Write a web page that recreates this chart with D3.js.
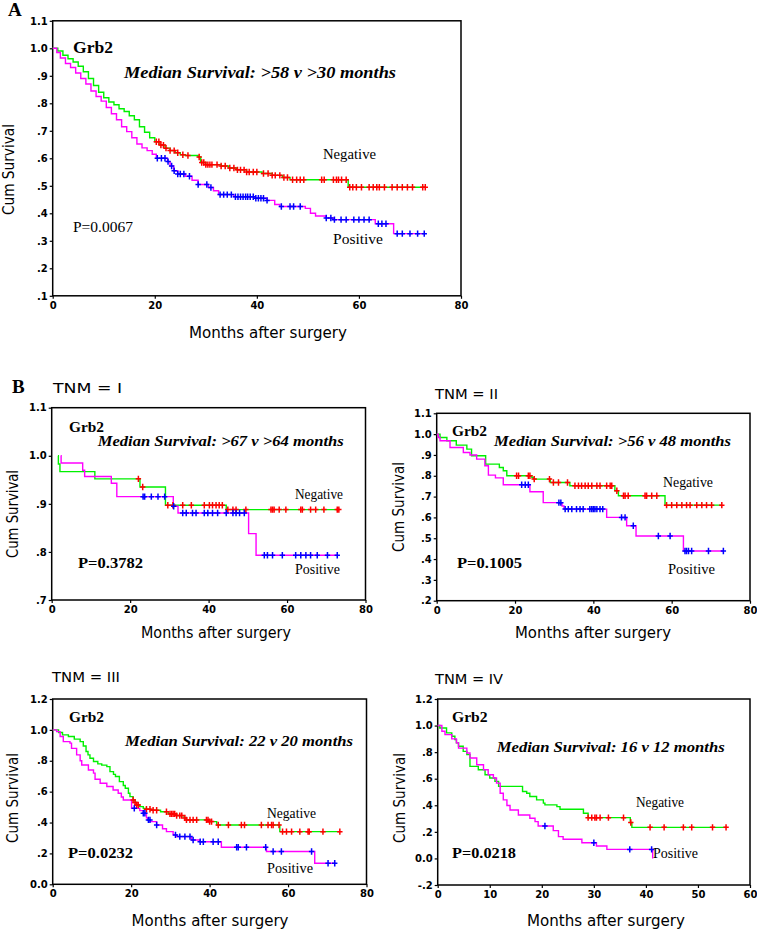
<!DOCTYPE html>
<html><head><meta charset="utf-8">
<script src="https://cdn.jsdelivr.net/npm/d3@7"></script>
<style>body{margin:0;background:#fff}svg{display:block}</style>
</head><body>
<svg id="c" width="757" height="929"></svg>
<script>
// ---------------- DATA ----------------
const markerName = "Grb2";
const negLabel = "Negative";
const posLabel = "Positive";
const yTitle = "Cum Survival";
const xTitle = "Months after surgery";
const panelLetters = ["A", "B"];
const tnmLabels = ["TNM = I", "TNM = II", "TNM = III", "TNM = IV"];
const medianLabels = [
  "Median Survival: >58 v >30 months",
  "Median Survival: >67 v >64 months",
  "Median Survival: >56 v 48 months",
  "Median Survival: 22 v 20 months",
  "Median Survival: 16 v 12 months"
];
const pLabels = ["P=0.0067", "P=0.3782", "P=0.1005", "P=0.0232", "P=0.0218"];

const xTicks80 = [0, 20, 40, 60, 80];
const xTicks60 = [0, 10, 20, 30, 40, 50, 60];
const yTicksA = [0.1, 0.2, 0.3, 0.4, 0.5, 0.6, 0.7, 0.8, 0.9, 1.0, 1.1];
const yTicksB1 = [0.7, 0.8, 0.9, 1.0, 1.1];
const yTicksB2 = [0.2, 0.3, 0.4, 0.5, 0.6, 0.7, 0.8, 0.9, 1.0, 1.1];
const yTicksB3 = [0, 0.2, 0.4, 0.6, 0.8, 1.0, 1.2];
const yTicksB4 = [-0.2, 0, 0.2, 0.4, 0.6, 0.8, 1.0, 1.2];

// Panel A (all patients) — [month, cumulative survival] at each step
const A_negSteps = [[0,1],[1,0.99],[2,0.975],[3,0.962],[4,0.95],[5,0.935],[6,0.915],[7,0.89],[8,0.865],[9,0.84],[10,0.82],[11,0.805],[12,0.795],[13,0.78],[14,0.77],[15,0.755],[16,0.74],[17,0.715],[18,0.695],[19,0.675],[20,0.66],[21,0.648],[22,0.637],[23,0.628],[24,0.62],[25,0.613],[26,0.61],[28.5,0.605],[29,0.585],[30,0.577],[33,0.572],[34.5,0.565],[36,0.558],[38,0.55],[41,0.545],[43,0.538],[45,0.53],[46.5,0.522],[57.9,0.495]];
const A_negCensor = [20.3,20.8,21.2,21.7,22.2,23,23.8,24.5,25.5,26.5,28.7,29.2,29.6,30,30.4,30.8,31.2,32.2,33,33.8,34.7,35.5,36.2,36.8,37.5,38,38.5,39.3,40,41.3,42.2,43,43.6,44.5,45.3,46,47,47.8,48.5,49.2,52.7,53.2,55,55.6,56,56.6,57.5,58.2,58.8,59.5,60.5,62,62.8,63.5,64,65,66.5,67.5,68.5,69.5,70.5,72.5,73];
const A_posSteps = [[0,1],[0.8,0.985],[1.5,0.965],[2.5,0.945],[3.5,0.93],[4.5,0.91],[5.5,0.89],[6.5,0.87],[7.5,0.845],[8.5,0.825],[9.5,0.808],[10.5,0.785],[11.5,0.762],[12.5,0.74],[13.5,0.715],[14.5,0.697],[15.5,0.675],[16.5,0.652],[17.5,0.638],[18.5,0.628],[19.5,0.615],[20.3,0.6],[22.5,0.588],[23,0.572],[23.7,0.555],[24.5,0.543],[26,0.535],[27.3,0.52],[28.5,0.505],[30.5,0.494],[31.5,0.482],[32.5,0.468],[35.5,0.46],[39.5,0.455],[42,0.447],[43.5,0.432],[44.5,0.425],[49.5,0.418],[50.5,0.4],[51.5,0.39],[53.5,0.383],[55,0.377],[63.2,0.362],[66.8,0.326]];
const A_posCensor = [20.5,21.3,22,22.6,23.3,23.8,24.5,25,25.7,26.8,28.5,30.2,31,32.8,33.5,34.2,35,35.8,36.3,36.8,37.3,37.8,38.2,38.7,39.3,39.8,40.3,40.8,41.3,42,44.8,46.5,47.2,48.5,53.6,54.5,55.2,56.5,57.5,59,60,61,62,63.8,64.5,65.3,67.5,68.5,70,71.5,72.8];

// Panel B, TNM I
const B1_negSteps = [[1.6,1],[1.7,0.983],[2.1,0.967],[11,0.952],[22.5,0.935],[29,0.897],[44.5,0.888]];
const B1_negCensor = [22.1,23.2,29.6,30.9,33.4,35.6,38.9,40.2,41,41.9,42.7,43.5,44.9,46.2,47,49.5,55.9,56.3,56.7,58,59.7,63.5,63.9,66,67.3,69.4,72.8,73.2];
const B1_posSteps = [[2.3,1],[2.4,0.985],[7.9,0.97],[8.4,0.957],[15.2,0.943],[16.6,0.915],[31,0.895],[32.2,0.881],[50.2,0.838],[52.1,0.793]];
const B1_posCensor = [23.3,23.7,25.4,27.1,28.8,31.1,33.4,34.3,35.9,36.8,38.9,39.8,41,42.3,44.5,46.2,47,47.9,49.1,54.2,55,56.3,58.8,62.2,63.5,64.8,66,67.7,70.3,72.8];

// Panel B, TNM II
const B2_negSteps = [[0,1],[0.85,0.984],[2.6,0.968],[5,0.947],[7.7,0.928],[8.9,0.896],[12.5,0.856],[16,0.84],[17,0.824],[17.9,0.8],[24.3,0.792],[24.7,0.784],[29,0.768],[34,0.752],[45.5,0.728],[46.4,0.704],[58.3,0.659]];
const B2_negCensor = [20.4,20.9,23.4,23.8,24.9,28.8,29.8,31.1,33.4,35.3,36.2,37,37.9,38.7,39.6,40.9,41.7,43.4,44.3,44.7,46,47.7,48.1,48.9,53.2,53.6,54.9,56.2,58.7,60,61.3,62.6,63.8,64.7,66.4,67.7,68.9,70.2,72.8];
const B2_posSteps = [[0,1],[0.4,0.984],[0.85,0.968],[3.4,0.936],[6.8,0.912],[8.5,0.9],[10.2,0.88],[12.3,0.848],[13.2,0.803],[15,0.79],[17,0.757],[23.8,0.723],[27.2,0.671],[32,0.655],[32.5,0.64],[43.4,0.6],[48.5,0.56],[50.9,0.511],[63,0.439]];
const B2_posCensor = [21.7,22.6,23.4,31.2,31.7,32.8,33.6,34.5,35.7,36.6,37.4,39.1,39.6,40,40.4,40.9,41.7,42.4,47.2,48.1,50.2,56.6,59.6,63.4,63.8,64.3,65.1,69.4,73.2];

// Panel B, TNM III
const B3_negSteps = [[0,1],[1.5,0.983],[2.5,0.968],[4,0.957],[5.5,0.94],[7,0.924],[7.8,0.896],[8.5,0.86],[9,0.838],[9.5,0.816],[10.4,0.795],[11.5,0.78],[12.5,0.772],[13.8,0.762],[14.6,0.73],[15.5,0.712],[16,0.698],[17,0.665],[18,0.64],[18.5,0.622],[19.3,0.59],[19.7,0.568],[20.5,0.546],[21,0.53],[21.4,0.514],[22.2,0.503],[23.1,0.492],[23.9,0.486],[25,0.48],[27.5,0.47],[29.5,0.456],[31.6,0.445],[33.5,0.43],[34.1,0.417],[40,0.406],[41.8,0.384],[57.9,0.341]];
const B3_negCensor = [20.5,21,21.4,21.8,23.9,24.8,25.6,26.5,29,29.9,30.3,30.7,31.1,31.6,32.4,32.9,33.7,34.1,35,35.8,36.7,39.2,39.6,40,40.5,42.2,44.8,48.1,48.9,53.2,54.9,55.8,56.2,57.7,58.6,59.6,60.9,63,65.1,65.4,68.9,73.2];
const B3_posSteps = [[0,1],[1,0.989],[1.9,0.957],[2.7,0.924],[4.4,0.914],[4.8,0.88],[6.1,0.838],[7,0.8],[7.4,0.773],[9.1,0.74],[10.4,0.72],[10.8,0.68],[12.1,0.654],[13.8,0.633],[15.4,0.611],[16.7,0.59],[17.5,0.565],[18,0.546],[20.1,0.492],[22.2,0.477],[23.1,0.46],[23.9,0.43],[24.2,0.417],[24.9,0.406],[26.5,0.384],[28,0.36],[29,0.341],[30.7,0.32],[31.6,0.309],[35.4,0.287],[37.5,0.276],[43,0.24],[54.5,0.212],[66.8,0.136]];
const B3_posCensor = [20.8,23.1,23.5,24.4,24.8,26.5,31.3,32.4,33.7,35,35.8,37.6,38.4,40.9,42.2,46.9,47.3,49.4,54.3,56.2,58.3,66,70.2,71.9];

// Panel B, TNM IV
const B4_negSteps = [[0,1],[0.4,0.982],[1.7,0.945],[2.7,0.92],[3.3,0.894],[3.6,0.87],[4,0.844],[4.9,0.806],[5.6,0.781],[6.2,0.693],[7.8,0.667],[9.1,0.63],[10,0.605],[11,0.58],[11.7,0.542],[16.3,0.504],[17.1,0.491],[17.7,0.466],[19,0.441],[20.3,0.416],[20.6,0.403],[22.9,0.39],[23.5,0.37],[28,0.34],[28.9,0.307],[37,0.27],[37.3,0.234]];
const B4_negCensor = [28.9,29.6,30.2,30.5,31.2,32.8,35.7,37.1,40.8,43.5,47.2,48.8,52.8,55.4];
const B4_posSteps = [[0,1],[0.8,0.957],[1.4,0.932],[2.7,0.9],[3.6,0.87],[4,0.83],[5.6,0.793],[6.2,0.756],[7.5,0.705],[8.8,0.667],[9.7,0.63],[10.7,0.605],[11.3,0.567],[12,0.491],[12.6,0.441],[13.3,0.398],[13.9,0.365],[15.5,0.327],[17.7,0.302],[18.7,0.277],[19.3,0.244],[22.2,0.209],[23.2,0.164],[24.1,0.144],[27.7,0.118],[30.5,0.093],[32.5,0.068],[41.3,0]];
const B4_posCensor = [20.6,30,36.9,41.1];

// ---------------- LAYOUT ----------------
const boxes = {
  A:  {x0:52.7, x1:461,   y0:20.8,  y1:295.8},
  B1: {x0:51.7, x1:365.5, y0:407.7, y1:600},
  B2: {x0:436.7,x1:750,   y0:413.3, y1:600.7},
  B3: {x0:52.7, x1:366.5, y0:699,   y1:884.3},
  B4: {x0:437.7,x1:750,   y0:699,   y1:885}
};
// text placement: [x, baselineY, textLength, fontSize]
const txtPos = {
  A:  {grb:[73,53,40,17], med:[124,77.5,272,16], neg:[323,159,53,15], pos:[333,244,50,15], p:[73,232,60,15],
       yt:[14,169.5,91,15], xt:[268,337.5,158,15]},
  B1: {grb:[69,431.7,35,15], med:[97.7,446,246,14], neg:[295,499,48,14], pos:[295,574,45,14], p:[78,568,65,15],
       yt:[18,514,88,15], xt:[216,638,150,15], tnm:[53,392.5,69,14]},
  B2: {grb:[452,436,35,15], med:[494,446,237,14], neg:[663,487,50,14], pos:[668,574,47,14], p:[457,568,65,15],
       yt:[404,507,90,15], xt:[593,638,156,15], tnm:[435,399,63,14]},
  B3: {grb:[69,722,35,15], med:[125,746,228,14], neg:[267,818,49,14], pos:[267,873,46,14], p:[68,858,65,15],
       yt:[18,798,90,15], xt:[210,926,157,15], tnm:[52,682.3,68,14]},
  B4: {grb:[452,721.7,35.6,15], med:[496.7,751.7,228,14], neg:[636,807,48,14], pos:[653,858,45,14], p:[452,858,64,15],
       yt:[405,798,90,15], xt:[606,926,158,15], tnm:[435,684.3,68,14]}
};

const panels = [
  {key:'A',  xDom:[0,80], yDom:[0.1,1.1], xT:xTicks80, yT:yTicksA,  neg:A_negSteps,  negC:A_negCensor,  pos:A_posSteps,  posC:A_posCensor,  med:medianLabels[0], p:pLabels[0], pBold:false, tnm:null},
  {key:'B1', xDom:[0,80], yDom:[0.7,1.1], xT:xTicks80, yT:yTicksB1, neg:B1_negSteps, negC:B1_negCensor, pos:B1_posSteps, posC:B1_posCensor, med:medianLabels[1], p:pLabels[1], pBold:true, tnm:tnmLabels[0]},
  {key:'B2', xDom:[0,80], yDom:[0.2,1.1], xT:xTicks80, yT:yTicksB2, neg:B2_negSteps, negC:B2_negCensor, pos:B2_posSteps, posC:B2_posCensor, med:medianLabels[2], p:pLabels[2], pBold:true, tnm:tnmLabels[1]},
  {key:'B3', xDom:[0,80], yDom:[0,1.2],   xT:xTicks80, yT:yTicksB3, neg:B3_negSteps, negC:B3_negCensor, pos:B3_posSteps, posC:B3_posCensor, med:medianLabels[3], p:pLabels[3], pBold:true, tnm:tnmLabels[2]},
  {key:'B4', xDom:[0,60], yDom:[-0.2,1.2],xT:xTicks60, yT:yTicksB4, neg:B4_negSteps, negC:B4_negCensor, pos:B4_posSteps, posC:B4_posCensor, med:medianLabels[4], p:pLabels[4], pBold:true, tnm:tnmLabels[3]}
];

const COL = {neg:'#00f000', negMark:'#ff0000', pos:'#ff00ff', posMark:'#0000ff'};
const SERIF = "'Liberation Serif','Times New Roman',serif";
const SANS = "'DejaVu Sans',Verdana,sans-serif";

const svg = d3.select('#c');

function fmt(v){
  const s = (Math.round(v*10)/10).toFixed(1);
  if (Math.abs(v) >= 1 || Math.abs(v) < 1e-9) return s;
  return s.replace('0.', '.');
}
function survAt(steps, t){
  let s = steps[0][1];
  for (const d of steps){ if (d[0] <= t + 1e-9) s = d[1]; else break; }
  return s;
}
function addText(g, str, pos, opt){
  const t = g.append('text').text(str)
    .attr('x', pos[0]).attr('y', pos[1])
    .attr('font-size', pos[3])
    .attr('font-family', opt.family || SERIF)
    .attr('font-weight', opt.weight || 'normal')
    .attr('font-style', opt.style || 'normal')
    .attr('fill', '#000')
    .attr('text-anchor', opt.anchor || 'start');
  if (pos[2]) t.attr('textLength', pos[2]).attr('lengthAdjust', 'spacingAndGlyphs');
  return t;
}

panels.forEach(P => {
  const b = boxes[P.key];
  const tp = txtPos[P.key];
  const x = d3.scaleLinear().domain(P.xDom).range([b.x0, b.x1]);
  const y = d3.scaleLinear().domain(P.yDom).range([b.y1, b.y0]);
  const g = svg.append('g');

  // axes
  const ax = g.append('g').attr('transform', `translate(0,${b.y1})`)
    .call(d3.axisBottom(x).tickValues(P.xT).tickFormat(d3.format('d')).tickSize(3).tickPadding(3));
  const ay = g.append('g').attr('transform', `translate(${b.x0},0)`)
    .call(d3.axisLeft(y).tickValues(P.yT).tickFormat(fmt).tickSize(3).tickPadding(2));
  [ax, ay].forEach(a => {
    a.select('.domain').remove();
    a.selectAll('.tick line').attr('stroke', '#000').attr('stroke-width', 1.2);
    a.selectAll('.tick text').attr('font-family', SANS).attr('font-weight', 'bold')
      .attr('font-size', 10).attr('fill', '#000');
  });

  // frame
  g.append('rect').attr('x', b.x0).attr('y', b.y0)
    .attr('width', b.x1 - b.x0).attr('height', b.y1 - b.y0)
    .attr('fill', 'none').attr('stroke', '#000').attr('stroke-width', 1.5);

  // curves
  const line = d3.line().x(d => x(d[0])).y(d => y(d[1])).curve(d3.curveStepAfter);
  function pts(steps, cens){
    const last = steps[steps.length - 1];
    const end = Math.max(last[0], d3.max(cens));
    return steps.concat([[end, last[1]]]);
  }
  g.append('path').attr('d', line(pts(P.neg, P.negC))).attr('fill', 'none')
    .attr('stroke', COL.neg).attr('stroke-width', 1.4);
  g.append('path').attr('d', line(pts(P.pos, P.posC))).attr('fill', 'none')
    .attr('stroke', COL.pos).attr('stroke-width', 1.4);

  const plus = 'M-2.7,0H2.7M0,-3.2V3.2';
  g.append('g').selectAll('path').data(P.negC).join('path')
    .attr('transform', d => `translate(${x(d)},${y(survAt(P.neg, d))})`)
    .attr('d', plus).attr('stroke', COL.negMark).attr('stroke-width', 1.5).attr('fill', 'none');
  g.append('g').selectAll('path').data(P.posC).join('path')
    .attr('transform', d => `translate(${x(d)},${y(survAt(P.pos, d))})`)
    .attr('d', plus).attr('stroke', COL.posMark).attr('stroke-width', 1.5).attr('fill', 'none');

  // annotations
  addText(g, markerName, tp.grb, {weight:'bold'});
  addText(g, P.med, tp.med, {weight:'bold', style:'italic'});
  addText(g, negLabel, tp.neg, {});
  addText(g, posLabel, tp.pos, {});
  addText(g, P.p, tp.p, {weight: P.pBold ? 'bold' : 'normal'});
  if (P.tnm) addText(g, P.tnm, tp.tnm, {family: SANS});

  // axis titles
  addText(g, xTitle, tp.xt, {family: SANS, anchor: 'middle'});
  g.append('text').text(yTitle)
    .attr('transform', `translate(${tp.yt[0]},${tp.yt[1]}) rotate(-90)`)
    .attr('text-anchor', 'middle').attr('font-family', SANS)
    .attr('font-size', tp.yt[3]).attr('fill', '#000')
    .attr('textLength', tp.yt[2]).attr('lengthAdjust', 'spacingAndGlyphs');
});

// panel letters
addText(svg, panelLetters[0], [8, 16, null, 19], {weight:'bold'});
addText(svg, panelLetters[1], [12, 393, null, 19], {weight:'bold'});
</script>
</body></html>
